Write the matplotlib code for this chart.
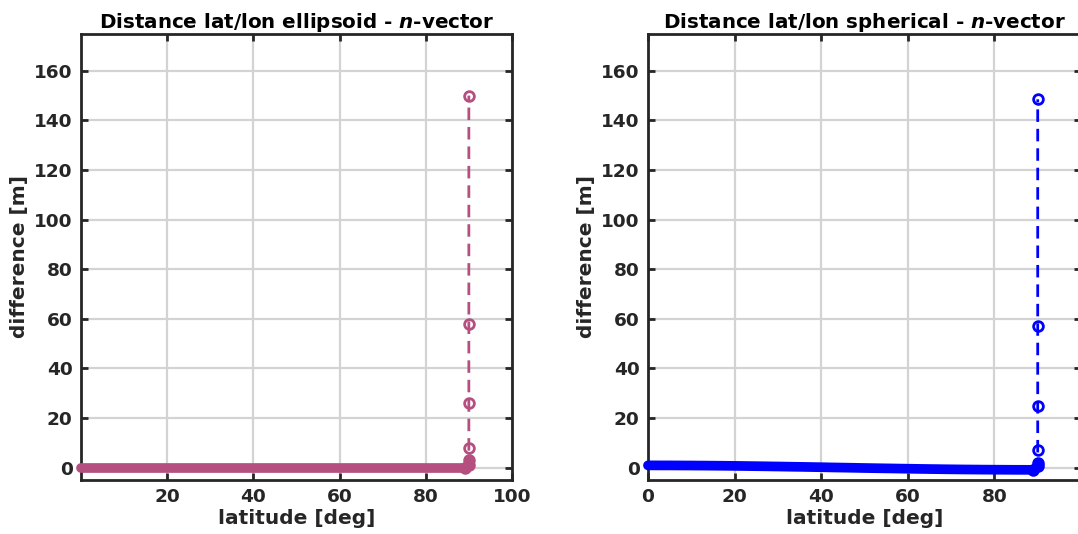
import matplotlib.pyplot as plt


# data
# latitude grid [deg], one point per degree, then points crowding towards 90
lat_grid = list(range(0, 90))
lat_pole = [89.99, 89.999, 89.9999, 89.99999, 89.999999, 89.9999999]

# ellipsoid - n-vector difference [m]
diff_ell_grid = [0.0] * 90
diff_ell_pole = [1.0, 3.0, 8.0, 26.0, 58.0, 150.0]

# spherical - n-vector difference [m]
diff_sph_grid = [
    0.90, 0.90, 0.90, 0.89, 0.89, 0.89, 0.88, 0.87, 0.86, 0.85,
    0.85, 0.83, 0.82, 0.81, 0.79, 0.78, 0.76, 0.75, 0.73, 0.71,
    0.69, 0.67, 0.65, 0.62, 0.60, 0.58, 0.55, 0.53, 0.50, 0.47,
    0.45, 0.42, 0.39, 0.36, 0.33, 0.31, 0.28, 0.25, 0.22, 0.19,
    0.16, 0.13, 0.09, 0.06, 0.03, 0.00, -0.03, -0.06, -0.09, -0.13,
    -0.16, -0.19, -0.22, -0.25, -0.28, -0.31, -0.33, -0.36, -0.39, -0.42,
    -0.45, -0.47, -0.50, -0.53, -0.55, -0.58, -0.60, -0.62, -0.65, -0.67,
    -0.69, -0.71, -0.73, -0.75, -0.76, -0.78, -0.79, -0.81, -0.82, -0.83,
    -0.85, -0.85, -0.86, -0.87, -0.88, -0.89, -0.89, -0.89, -0.90, -0.90,
]
diff_sph_pole = [0.5, 2.0, 7.0, 25.0, 57.0, 148.5]

titles = [r'Distance lat/lon ellipsoid - $\boldsymbol{n}$-vector',
          r'Distance lat/lon spherical - $\boldsymbol{n}$-vector']
colors = ['#b44f80', '#0000ff']

plt.rcParams['font.family'] = ['DejaVu Sans']
plt.rcParams['font.weight'] = 'bold'
plt.rcParams['mathtext.fontset'] = 'dejavusans'

fig = plt.figure(figsize=(10.78, 5.34), dpi=100)
ax1 = fig.add_axes([0.0751, 0.1011, 0.3998, 0.836])
ax2 = fig.add_axes([0.6011, 0.1011, 0.4017, 0.836])

series = [
    (ax1, diff_ell_grid, diff_ell_pole, [20, 40, 60, 80, 100]),
    (ax2, diff_sph_grid, diff_sph_pole, [0, 20, 40, 60, 80]),
]

for i, (ax, y_grid, y_pole, xt) in enumerate(series):
    c = colors[i]
    # densely packed markers along the grid look like one thick band
    ax.plot(lat_grid, y_grid, '-', color=c, linewidth=7,
            solid_capstyle='round', clip_on=False, zorder=3)
    # last grid point plus the points near the pole
    ax.plot(lat_grid[-1:] + lat_pole, y_grid[-1:] + y_pole, 'o--', color=c,
            markerfacecolor='none', markersize=7, markeredgewidth=2,
            linewidth=2, dashes=(4.5, 2.5), zorder=3)
    ax.plot(lat_grid[-1:] + lat_pole[:2], y_grid[-1:] + y_pole[:2], '-',
            color=c, linewidth=7, solid_capstyle='round', zorder=3)
    ax.set_xlim(0, 100)
    ax.set_ylim(-5, 175)
    ax.set_xticks(xt)
    ax.set_yticks(range(0, 161, 20))
    ax.grid(True, color='#d3d3d3', linewidth=1.6)
    ax.set_axisbelow(True)
    ax.tick_params(direction='in', top=True, right=True, length=5, width=2,
                   labelsize=13.3, colors='#262626', pad=6)
    for lab in ax.get_xticklabels() + ax.get_yticklabels():
        lab.set_fontweight('bold')
    for sp in ax.spines.values():
        sp.set_linewidth(2)
        sp.set_color('#262626')
    ax.set_xlabel('latitude [deg]', fontsize=14.5, fontweight='bold',
                  color='#262626', labelpad=2)
    ax.set_ylabel('difference [m]', fontsize=14.5, fontweight='bold',
                  color='#262626', labelpad=4)
    ax.set_title(titles[i], fontsize=14.3, fontweight='bold', color='black', pad=4)

fig.savefig('out.png', dpi=100)
